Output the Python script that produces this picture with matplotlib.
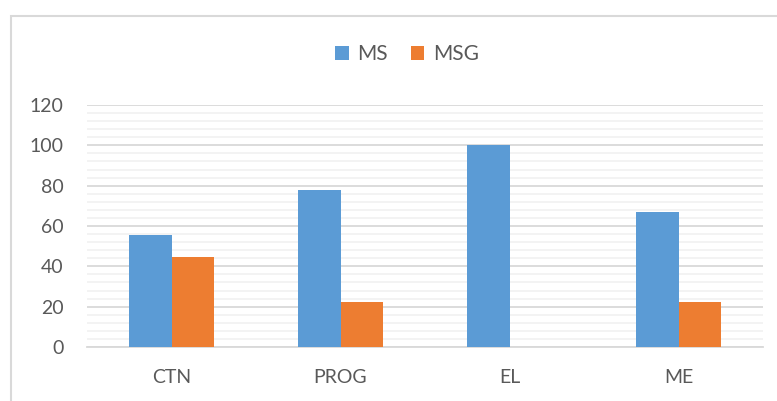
import matplotlib.pyplot as plt
import matplotlib.patches as patches
import numpy as np

# datos del gráfico
categorias = ['CTN', 'PROG', 'EL', 'ME']
ms = [55.6, 77.8, 100, 66.7]
msg = [44.4, 22.2, 0, 22.2]

plt.rcParams['font.family'] = ['Lato', 'DejaVu Sans']
gris_texto = '#595959'

fig = plt.figure(figsize=(7.77, 4.01), dpi=100)
ax = fig.add_axes([87 / 777, 1 - 347 / 401, (763 - 87) / 777, (347 - 105) / 401])

x = np.arange(len(categorias))
ancho = 0.25
ax.bar(x - ancho / 2, ms, ancho, color='#5B9BD5', label='MS', zorder=3)
ax.bar(x + ancho / 2, msg, ancho, color='#ED7D31', label='MSG', zorder=3)

ax.set_xlim(-0.5, len(categorias) - 0.5)
ax.set_ylim(0, 120)
ax.set_yticks(range(0, 121, 20))
ax.set_yticks(range(0, 121, 4), minor=True)
ax.set_xticks(x)
ax.set_xticklabels(categorias)

# líneas de cuadrícula estilo Excel
ax.grid(axis='y', which='major', color='#D9D9D9', lw=1.3, zorder=0)
ax.grid(axis='y', which='minor', color='#F2F2F2', lw=1.3, zorder=0)
ax.set_axisbelow(True)

for lado in ['top', 'right', 'left']:
    ax.spines[lado].set_visible(False)
ax.spines['bottom'].set_color('#D9D9D9')
ax.spines['bottom'].set_linewidth(1.3)

ax.tick_params(axis='both', which='both', length=0, labelsize=14, labelcolor=gris_texto)
ax.tick_params(axis='x', pad=16)
ax.tick_params(axis='y', pad=17)

fig.legend(loc='center', bbox_to_anchor=(407 / 777, 1 - 54 / 401), ncol=2, frameon=False,
           fontsize=15, labelcolor=gris_texto, handlelength=0.65, handleheight=0.65,
           handletextpad=0.4, columnspacing=1.1)

# borde del área del gráfico
borde = patches.Rectangle((10.5 / 777, -0.1), 1.2, 1.1 - 15.5 / 401,
                          transform=fig.transFigure, fill=False, edgecolor='#D9D9D9', lw=1.5)
fig.add_artist(borde)

fig.savefig('out.png', dpi=100)
